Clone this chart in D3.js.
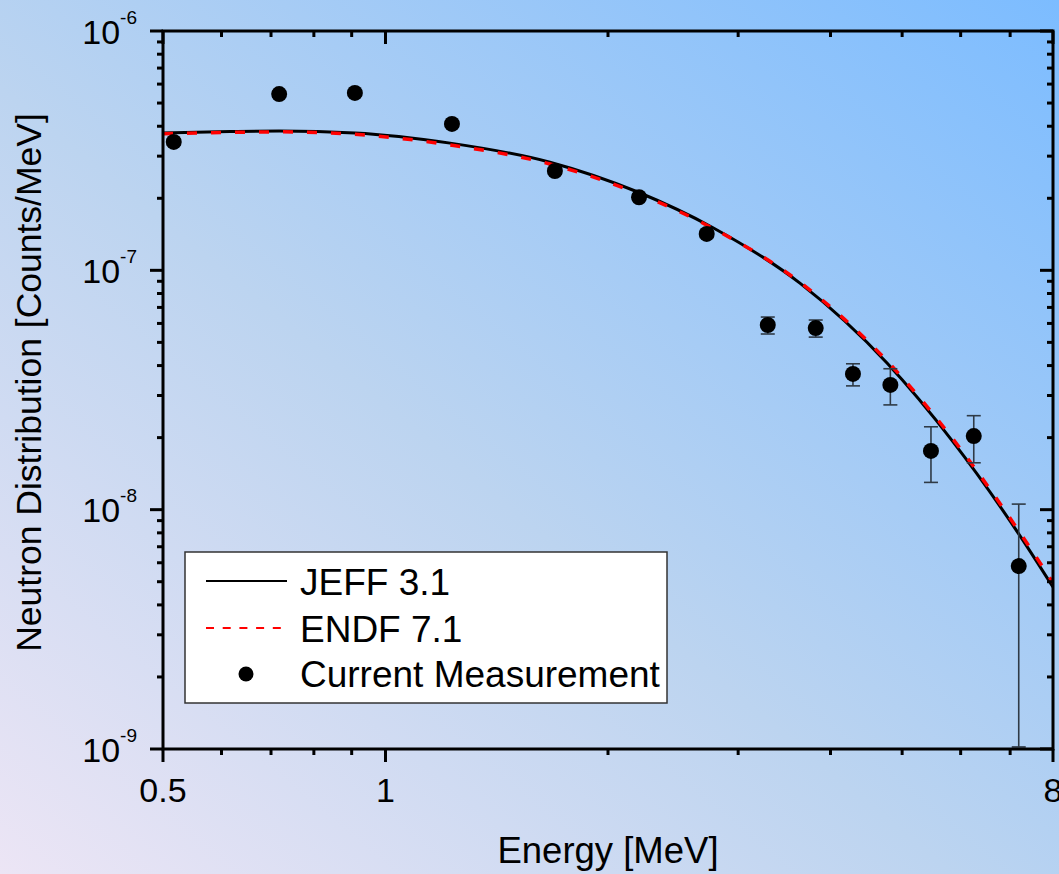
<!DOCTYPE html>
<html>
<head>
<meta charset="utf-8">
<script src="https://cdn.jsdelivr.net/npm/d3@7"></script>
<style>
  html, body { margin: 0; padding: 0; overflow: hidden; }
  svg { display: block; font-family: Arial, "Liberation Sans", sans-serif; }
</style>
</head>
<body>
<svg id="chart" width="1059" height="874"></svg>
<script>
// ---- Data ----
const energy = [0.517, 0.718, 0.909, 1.23, 1.695, 2.203, 2.72, 3.29, 3.82, 4.29, 4.82, 5.47, 6.25, 7.19];
const counts = [3.44e-7, 5.45e-7, 5.51e-7, 4.09e-7, 2.60e-7, 2.02e-7, 1.42e-7, 5.91e-8, 5.74e-8, 3.69e-8, 3.32e-8, 1.76e-8, 2.03e-8, 5.81e-9];
const errUpper = [3.55e-7, 5.60e-7, 5.65e-7, 4.20e-7, 2.68e-7, 2.08e-7, 1.47e-7, 6.38e-8, 6.20e-8, 4.07e-8, 3.88e-8, 2.22e-8, 2.47e-8, 1.055e-8];
const errLower = [3.33e-7, 5.30e-7, 5.37e-7, 3.98e-7, 2.52e-7, 1.96e-7, 1.37e-7, 5.42e-8, 5.26e-8, 3.29e-8, 2.74e-8, 1.30e-8, 1.57e-8, 1.02e-9];

const curveEnergy = [0.5, 0.616, 0.718, 0.909, 1.223, 1.669, 2.19, 2.77, 3.64, 4.77, 5.86, 7.2, 8];
const jeff31 = [3.75e-7, 3.80e-7, 3.82e-7, 3.75e-7, 3.40e-7, 2.83e-7, 2.13e-7, 1.51e-7, 8.82e-8, 4.10e-8, 1.92e-8, 7.87e-9, 4.75e-9];
const endf71 = [3.72e-7, 3.77e-7, 3.79e-7, 3.70e-7, 3.34e-7, 2.78e-7, 2.10e-7, 1.50e-7, 8.90e-8, 4.18e-8, 1.97e-8, 8.10e-9, 4.95e-9];

const xMajorTicks = [0.5, 1, 8];
const xMinorTicks = [0.6, 0.7, 0.8, 0.9, 2, 3, 4, 5, 6, 7];
const yMajorTicks = [1e-9, 1e-8, 1e-7, 1e-6];
const yExponents = ["-9", "-8", "-7", "-6"];
const legendLabels = ["JEFF 3.1", "ENDF 7.1", "Current Measurement"];
const xTitle = "Energy [MeV]";
const yTitle = "Neutron Distribution [Counts/MeV]";

// ---- Layout ----
const W = 1059, H = 874;
const L = 163, R = 1053, T = 31, B = 749;
const svg = d3.select("#chart");

// Background gradient
const defs = svg.append("defs");
const grad = defs.append("linearGradient").attr("id", "bg")
  .attr("x1", 0).attr("y1", 1).attr("x2", 1).attr("y2", 0);
grad.append("stop").attr("offset", "0%").attr("stop-color", "#ece5f5");
grad.append("stop").attr("offset", "45%").attr("stop-color", "#bcd4f0");
grad.append("stop").attr("offset", "100%").attr("stop-color", "#7cbcff");
svg.append("rect").attr("width", W).attr("height", H).attr("fill", "url(#bg)");

defs.append("clipPath").attr("id", "plotclip")
  .append("rect").attr("x", L).attr("y", T).attr("width", R - L).attr("height", B - T);

const x = d3.scaleLog().domain([0.5, 8]).range([L, R]);
const y = d3.scaleLog().domain([1e-9, 1e-6]).range([B, T]);

const yMinorTicks = [];
[1e-9, 1e-8, 1e-7].forEach(d => { for (let k = 2; k <= 9; k++) yMinorTicks.push(d * k); });

// ---- Curves ----
const plot = svg.append("g").attr("clip-path", "url(#plotclip)");
const line = d3.line().curve(d3.curveMonotoneX);
const jeffPts = curveEnergy.map((e, i) => [x(e), y(jeff31[i])]);
const endfPts = curveEnergy.map((e, i) => [x(e), y(endf71[i])]);
plot.append("path").attr("d", line(jeffPts)).attr("fill", "none")
  .attr("stroke", "#000").attr("stroke-width", 3);
plot.append("path").attr("d", line(endfPts)).attr("fill", "none")
  .attr("stroke", "#ff0000").attr("stroke-width", 3.5).attr("stroke-dasharray", "10,14");

// ---- Error bars ----
const eb = svg.append("g").attr("stroke", "#2f3a46").attr("stroke-width", 1.6);
energy.forEach((e, i) => {
  const cx = x(e), y1 = y(errUpper[i]), y2 = y(errLower[i]);
  eb.append("line").attr("x1", cx).attr("x2", cx).attr("y1", y1).attr("y2", y2);
  eb.append("line").attr("x1", cx - 7).attr("x2", cx + 7).attr("y1", y1).attr("y2", y1);
  eb.append("line").attr("x1", cx - 7).attr("x2", cx + 7).attr("y1", y2).attr("y2", y2);
});

// ---- Points ----
svg.append("g").selectAll("circle").data(energy).join("circle")
  .attr("cx", d => x(d)).attr("cy", (d, i) => y(counts[i])).attr("r", 8).attr("fill", "#000");

// ---- Legend ----
const lg = svg.append("g");
lg.append("rect").attr("x", 185).attr("y", 552).attr("width", 482).attr("height", 151)
  .attr("fill", "#fff").attr("stroke", "#333").attr("stroke-width", 1.5);
lg.append("line").attr("x1", 206).attr("x2", 287).attr("y1", 581).attr("y2", 581)
  .attr("stroke", "#000").attr("stroke-width", 2);
lg.append("line").attr("x1", 206).attr("x2", 287).attr("y1", 628).attr("y2", 628)
  .attr("stroke", "#ff0000").attr("stroke-width", 2).attr("stroke-dasharray", "8,8.7");
lg.append("circle").attr("cx", 246).attr("cy", 674).attr("r", 7.5).attr("fill", "#000");
[595, 642, 687].forEach((by, i) => {
  lg.append("text").attr("x", 300).attr("y", by).attr("font-size", 37).attr("fill", "#000")
    .text(legendLabels[i]);
});

// ---- Axes ----
const ax = svg.append("g").attr("stroke", "#000").attr("stroke-width", 3).attr("fill", "none");
ax.append("rect").attr("x", L).attr("y", T).attr("width", R - L).attr("height", B - T);
xMajorTicks.forEach(v => {
  ax.append("line").attr("x1", x(v)).attr("x2", x(v)).attr("y1", B).attr("y2", B + 13);
  ax.append("line").attr("x1", x(v)).attr("x2", x(v)).attr("y1", T).attr("y2", T + 13);
});
xMinorTicks.forEach(v => {
  ax.append("line").attr("x1", x(v)).attr("x2", x(v)).attr("y1", B).attr("y2", B + 6);
  ax.append("line").attr("x1", x(v)).attr("x2", x(v)).attr("y1", T).attr("y2", T + 6);
});
yMajorTicks.forEach(v => {
  ax.append("line").attr("x1", L - 13).attr("x2", L).attr("y1", y(v)).attr("y2", y(v));
  ax.append("line").attr("x1", R - 13).attr("x2", R).attr("y1", y(v)).attr("y2", y(v));
});
yMinorTicks.forEach(v => {
  ax.append("line").attr("x1", L - 6).attr("x2", L).attr("y1", y(v)).attr("y2", y(v));
  ax.append("line").attr("x1", R - 6).attr("x2", R).attr("y1", y(v)).attr("y2", y(v));
});

// tick labels
xMajorTicks.forEach(v => {
  svg.append("text").attr("x", x(v)).attr("y", 802).attr("text-anchor", "middle")
    .attr("font-size", 34).attr("fill", "#000").text(v);
});
yMajorTicks.forEach((v, i) => {
  const t = svg.append("text").attr("x", 137).attr("y", y(v) + 12.5)
    .attr("text-anchor", "end").attr("fill", "#000");
  t.append("tspan").attr("font-size", 34).text("10");
  t.append("tspan").attr("font-size", 19).attr("dy", -20).text(yExponents[i]);
});

// axis titles
svg.append("text").attr("x", (L + R) / 2).attr("y", 863).attr("text-anchor", "middle")
  .attr("font-size", 36.5).attr("fill", "#000").text(xTitle);
svg.append("text").attr("transform", "translate(41,382.5) rotate(-90)")
  .attr("text-anchor", "middle").attr("font-size", 35.5).attr("fill", "#000").text(yTitle);
</script>
</body>
</html>
